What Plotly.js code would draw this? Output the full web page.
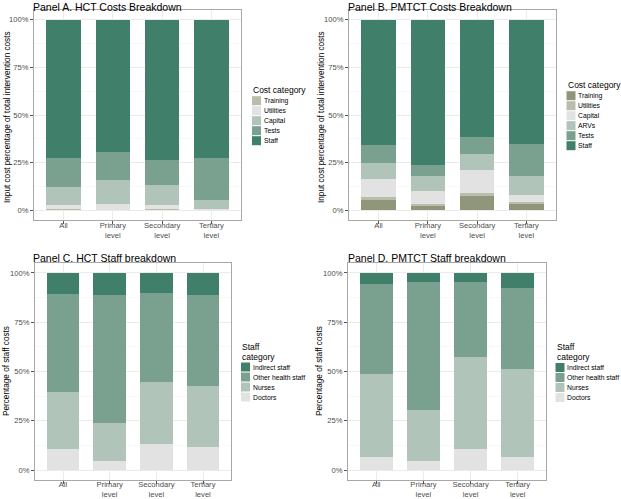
<!DOCTYPE html>
<html>
<head>
<meta charset="utf-8">
<script src="https://cdn.plot.ly/plotly-3.0.1.min.js"></script>
<style>html,body{margin:0;padding:0;background:#fff;}#chart{width:621px;height:499px;}</style>
</head>
<body>
<div id="chart"></div>
<script>
// ---- data ----
const categories = ['All', 'Primary<br>level', 'Secondary<br>level', 'Tertiary<br>level'];

// Panel A: HCT cost breakdown (% of total intervention costs)
const hctCostNames = ['Training', 'Utilities', 'Capital', 'Tests', 'Staff'];
const hctTraining  = [1.0, 0.0, 1.0, 0.2];
const hctUtilities = [1.6, 3.4, 1.6, 0.8];
const hctCapital   = [9.9, 12.6, 10.6, 4.6];
const hctTests     = [14.8, 14.6, 13.2, 22.0];
const hctStaff     = [72.7, 69.4, 73.6, 72.4];

// Panel B: PMTCT cost breakdown
const pmtctCostNames = ['Training', 'Utilities', 'Capital', 'ARVs', 'Tests', 'Staff'];
const pmtctTraining  = [5.4, 2.1, 7.4, 3.4];
const pmtctUtilities = [1.6, 1.4, 1.9, 0.8];
const pmtctCapital   = [9.4, 6.5, 12.0, 4.1];
const pmtctARVs      = [8.2, 7.8, 8.1, 9.8];
const pmtctTests     = [9.8, 5.8, 9.3, 16.7];
const pmtctStaff     = [65.6, 76.4, 61.3, 65.2];

// Panel C: HCT staff breakdown (% of staff costs)
const staffNames = ['Doctors', 'Nurses', 'Other health staff', 'Indirect staff'];
const hctDoctors  = [10.8, 4.7, 13.0, 11.8];
const hctNurses   = [29.0, 19.3, 31.8, 30.9];
const hctOther    = [49.6, 64.9, 45.2, 46.2];
const hctIndirect = [10.6, 11.1, 10.0, 11.1];

// Panel D: PMTCT staff breakdown
const pmtctDoctors  = [6.9, 4.6, 10.5, 6.8];
const pmtctNurses   = [41.9, 26.1, 47.1, 44.6];
const pmtctOther    = [45.6, 64.6, 37.8, 41.0];
const pmtctIndirect = [5.6, 4.7, 4.6, 7.6];

const yTickVals = [0, 25, 50, 75, 100];
const yTickText = ['0%', '25%', '50%', '75%', '100%'];

// ---- styles ----
const W = 621, H = 499;
const FONT = 'Liberation Sans, Arial, Helvetica, sans-serif';
const C_STAFF = '#40806a', C_TESTS = '#7aa18f', C_SOFT = '#b0c4ba', C_LIGHT = '#e2e2e2';
const C_GREYOLIVE = '#b9bdab', C_OLIVE = '#8f967a';

const colorsA = [C_GREYOLIVE, C_LIGHT, C_SOFT, C_TESTS, C_STAFF];
const colorsB = [C_OLIVE, C_GREYOLIVE, C_LIGHT, C_SOFT, C_TESTS, C_STAFF];
const colorsStaff = [C_LIGHT, C_SOFT, C_TESTS, C_STAFF];

const px = v => v / W;
const py = v => 1 - v / H;

const seriesA = [hctTraining, hctUtilities, hctCapital, hctTests, hctStaff];
const seriesB = [pmtctTraining, pmtctUtilities, pmtctCapital, pmtctARVs, pmtctTests, pmtctStaff];
const seriesC = [hctDoctors, hctNurses, hctOther, hctIndirect];
const seriesD = [pmtctDoctors, pmtctNurses, pmtctOther, pmtctIndirect];

const traces = [];
function addPanel(names, series, colors, xa, ya) {
  names.forEach((n, i) => {
    traces.push({
      type: 'bar', x: categories, y: series[i], name: n,
      marker: {color: colors[i], line: {width: 0}},
      xaxis: xa, yaxis: ya, showlegend: false,
      hovertemplate: n + ': %{y:.1f}%<extra></extra>'
    });
  });
}
addPanel(hctCostNames, seriesA, colorsA, 'x', 'y');
addPanel(pmtctCostNames, seriesB, colorsB, 'x2', 'y2');
addPanel(staffNames, seriesC, colorsStaff, 'x3', 'y3');
addPanel(staffNames, seriesD, colorsStaff, 'x4', 'y4');

function xAxis(l, r, anchor, standoff) {
  return {
    domain: [px(l), px(r)], anchor: anchor, type: 'category', range: [-0.6, 3.6],
    showgrid: true, gridcolor: '#ebebeb', gridwidth: 1,
    showline: true, mirror: true, linecolor: '#a8a8a8', linewidth: 1,
    ticks: 'outside', ticklen: 3, tickcolor: '#555', tickwidth: 1, ticklabelstandoff: standoff,
    tickfont: {family: FONT, size: 7.6, color: '#4d4d4d'}, zeroline: false, fixedrange: true
  };
}
function yAxis(t, b, anchor) {
  return {
    domain: [py(b), py(t)], anchor: anchor, range: [-5, 105],
    tickmode: 'array', tickvals: yTickVals, ticktext: yTickText,
    showgrid: true, gridcolor: '#ebebeb', gridwidth: 1,
    minor: {tickmode: 'linear', tick0: 12.5, dtick: 25, showgrid: true, gridcolor: '#f4f4f4', gridwidth: 0.6, ticks: ''},
    showline: true, mirror: true, linecolor: '#a8a8a8', linewidth: 1,
    ticks: 'outside', ticklen: 3, tickcolor: '#555', tickwidth: 1,
    tickfont: {family: FONT, size: 7.6, color: '#4d4d4d'}, zeroline: false, fixedrange: true
  };
}

const annotations = [];
const shapes = [];
function title(text, x, yTop) {
  annotations.push({text: text, xref: 'paper', yref: 'paper', x: px(x), y: py(yTop),
    xanchor: 'left', yanchor: 'top', showarrow: false, borderpad: 0,
    font: {family: FONT, size: 10.5, color: '#000'}});
}
function yTitle(text, x, y) {
  annotations.push({text: text, xref: 'paper', yref: 'paper', x: px(x), y: py(y),
    xanchor: 'center', yanchor: 'middle', showarrow: false, textangle: -90,
    font: {family: FONT, size: 8.2, color: '#000'}});
}
// legend built from the category names and colours (ggplot order)
function legend(titleLines, names, colors, x, yTitleCenter, yFirst, reverse) {
  titleLines.forEach((t, k) => {
    annotations.push({text: t, xref: 'paper', yref: 'paper', x: px(x - 1), y: py(yTitleCenter + k * 10),
      xanchor: 'left', yanchor: 'middle', showarrow: false,
      font: {family: FONT, size: 8.5, color: '#000'}});
  });
  const order = names.map((n, i) => i);
  if (reverse) order.reverse();
  order.forEach((idx, k) => {
    const cy = yFirst + k * 10;
    shapes.push({type: 'rect', xref: 'paper', yref: 'paper',
      x0: px(x), x1: px(x + 9), y0: py(cy - 4.5), y1: py(cy + 4.5),
      fillcolor: colors[idx], line: {width: 0}});
    annotations.push({text: names[idx], xref: 'paper', yref: 'paper', x: px(x + 10.5), y: py(cy),
      xanchor: 'left', yanchor: 'middle', showarrow: false, borderpad: 0,
      font: {family: FONT, size: 6.8, color: '#000'}});
  });
}

title('Panel A. HCT Costs Breakdown', 32, 0);
title('Panel B. PMTCT Costs Breakdown', 347, 0);
title('Panel C. HCT Staff breakdown', 32, 251);
title('Panel D. PMTCT Staff breakdown', 347, 251);

yTitle('Input cost percentage of total intervention costs', 7, 117);
yTitle('Input cost percentage of total intervention costs', 321, 117);
yTitle('Percentage of staff costs', 6, 371);
yTitle('Percentage of staff costs', 319, 371);

legend(['Cost category'], hctCostNames, colorsA, 252, 90, 100.7, false);
legend(['Cost category'], pmtctCostNames, colorsB, 566.5, 85, 95.7, false);
legend(['Staff', 'category'], staffNames, colorsStaff, 241, 347, 367, true);
legend(['Staff', 'category'], staffNames, colorsStaff, 555.5, 347, 367.5, true);

const layout = {
  width: W, height: H, margin: {l: 0, r: 0, t: 0, b: 0},
  paper_bgcolor: '#fff', plot_bgcolor: '#fff',
  barmode: 'stack', bargap: 0.3, showlegend: false,
  font: {family: FONT},
  xaxis: xAxis(34, 241, 'y', -5),  yaxis: yAxis(10, 220, 'x'),
  xaxis2: xAxis(349, 556, 'y2', -5), yaxis2: yAxis(10, 220, 'x2'),
  xaxis3: xAxis(35, 231, 'y3', -6), yaxis3: yAxis(263, 480, 'x3'),
  xaxis4: xAxis(348, 546, 'y4', -6), yaxis4: yAxis(263, 480, 'x4'),
  annotations: annotations, shapes: shapes
};

Plotly.newPlot('chart', traces, layout, {displayModeBar: false, staticPlot: true});
</script>
</body>
</html>
